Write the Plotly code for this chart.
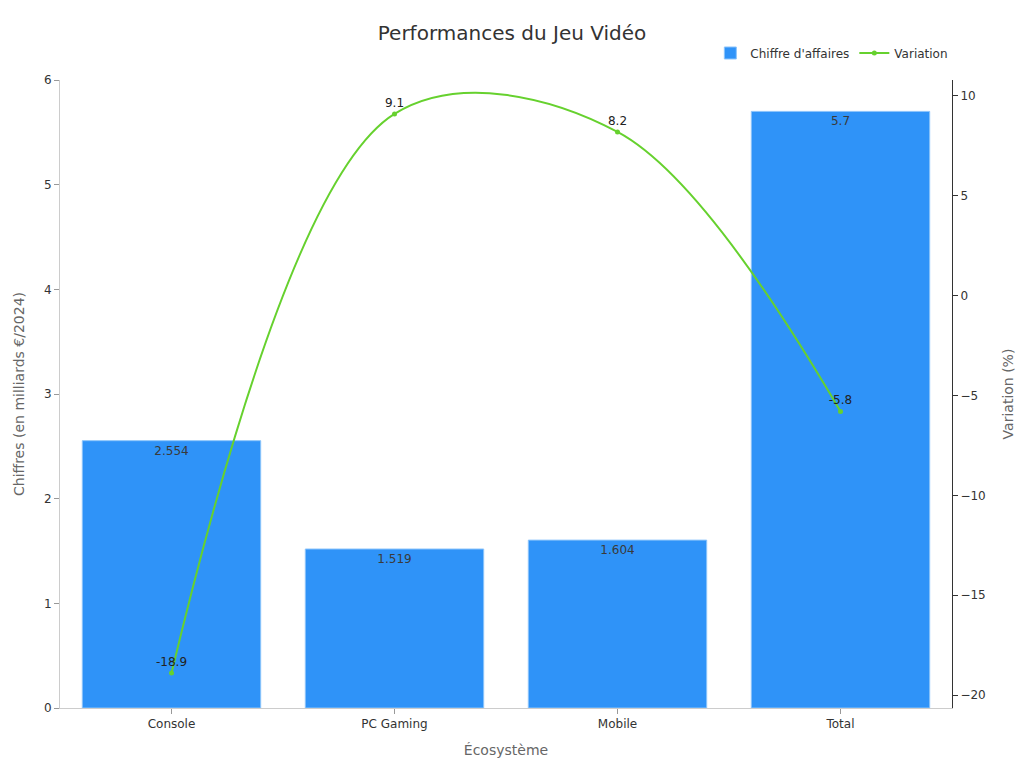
import plotly.graph_objects as go

categories = ["Console", "PC Gaming", "Mobile", "Total"]
chiffre = [2.554, 1.519, 1.604, 5.7]
chiffre_labels = ["2.554", "1.519", "1.604", "5.7"]
variation = [-18.9, 9.1, 8.2, -5.8]
variation_labels = ["-18.9", "9.1", "8.2", "-5.8"]

FONT = "DejaVu Sans"

fig = go.Figure()
fig.add_trace(go.Bar(
    x=categories, y=chiffre, name="Chiffre d'affaires",
    marker=dict(color="#2f93f8", line=dict(color="#8cc4fb", width=1)),
    text=chiffre_labels, textposition="inside", insidetextanchor="end",
    textfont=dict(color="#3a3a3a", size=12, family=FONT),
    width=0.8, yaxis="y",
))
fig.add_trace(go.Scatter(
    x=categories, y=variation, name="Variation", yaxis="y2",
    mode="lines+markers+text",
    line=dict(color="#66d12e", width=2, shape="spline", smoothing=1.0),
    marker=dict(color="#66d12e", size=5),
    text=variation_labels, textposition="top center",
    textfont=dict(color="#222222", size=12, family=FONT),
))

# page body has an 8px margin; compensate so the plot lands at the reference position
W, H = 1016, 760
fig.update_layout(
    width=W, height=H,
    paper_bgcolor="white", plot_bgcolor="white",
    font=dict(family=FONT, color="#333333", size=12),
    title=dict(text="Performances du Jeu Vidéo", x=(512 - 8) / W, xanchor="center",
               y=1 - 25 / H, yanchor="middle", font=dict(size=20, color="#333333", family=FONT)),
    margin=dict(l=52, r=72, t=72, b=60, autoexpand=False),
    bargap=0.2,
    showlegend=True,
    legend=dict(orientation="h", x=1.0015, xanchor="right", y=1.043, yanchor="middle",
                font=dict(size=12, color="#333333"), bgcolor="rgba(0,0,0,0)"),
    xaxis=dict(
        title=dict(text="Écosystème", font=dict(size=14, color="#666666"), standoff=14),
        showline=True, linecolor="#cccccc", ticks="outside", tickcolor="#999999",
        ticklen=5, showgrid=False, tickfont=dict(size=12, color="#333333"),
        automargin=False,
    ),
    yaxis=dict(
        title=dict(text="Chiffres (en milliards €/2024)", font=dict(size=14, color="#666666"), standoff=16),
        range=[0, 6], dtick=1, showline=True, linecolor="#cccccc", ticks="outside",
        tickcolor="#999999", ticklen=5, showgrid=False, zeroline=False,
        tickfont=dict(size=12, color="#333333"), automargin=False,
    ),
    yaxis2=dict(
        title=dict(text="Variation (%)", font=dict(size=14, color="#666666"), standoff=18),
        overlaying="y", side="right", range=[-20.65, 10.8], dtick=5,
        showline=True, linecolor="#333333", ticks="outside", tickcolor="#333333",
        ticklen=5, showgrid=False, zeroline=False,
        tickfont=dict(size=12, color="#333333"), automargin=False,
    ),
)

fig.write_html("out.html")
